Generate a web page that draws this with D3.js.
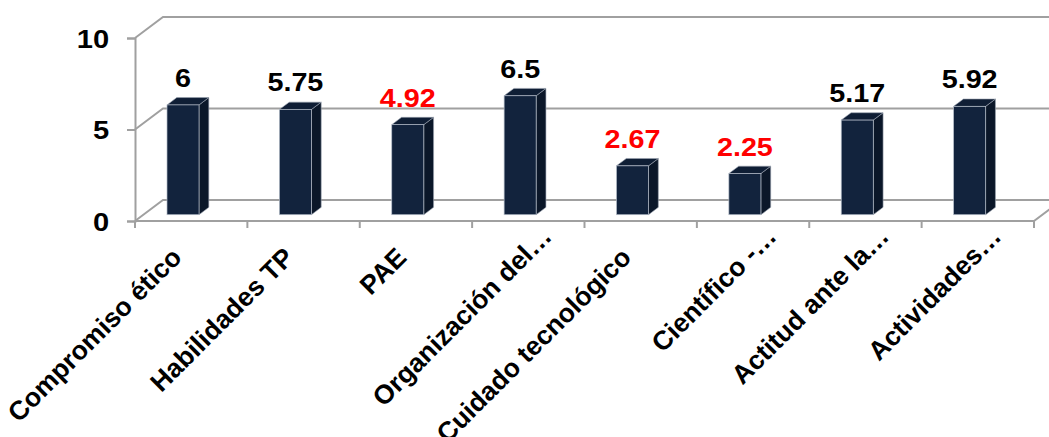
<!DOCTYPE html>
<html lang="es">
<head>
    <meta charset="UTF-8">
    <title>Promedio por competencia</title>
    <script src="https://d3js.org/d3.v7.min.js"></script>
    <style>
        body { margin: 0; background: #fff; }
        text { font-family: "Liberation Sans", Arial, sans-serif; font-weight: bold; }
    </style>
</head>
<body>
    <div id="chart"></div>

    <script>
        // datos
        var categories = ["Compromiso ético", "Habilidades TP", "PAE", "Organización del…",
                          "Cuidado tecnológico", "Científico -…", "Actitud ante la…", "Actividades…"];
        var values = [6, 5.75, 4.92, 6.5, 2.67, 2.25, 5.17, 5.92];
        var yTicks = [0, 5, 10];
        var limit = 5; // por debajo se marca en rojo

        var width = 1049, height = 437;
        var plotL = 135, plotR = 1034, plotB = 221, plotT = 38;
        var DX = 28, DY = -21;          // profundidad del "3D"
        var f0 = 0.3, f1 = 0.65;        // posición de la barra en la profundidad
        var grid = "#a0a0a0";

        var svg = d3.select("#chart").append("svg")
            .attr("width", width).attr("height", height);

        var x = d3.scaleBand().domain(categories).range([plotL, plotR]);
        var y = d3.scaleLinear().domain([0, 10]).range([plotB, plotT]);

        // pared lateral + pared de fondo
        svg.append("g").selectAll("polyline")
            .data(yTicks)
            .enter().append("polyline")
            .attr("points", function(d) {
                return [[plotL, y(d)], [plotL + DX, y(d) + DY], [plotR + DX, y(d) + DY]].join(" ");
            })
            .attr("fill", "none")
            .attr("stroke", grid)
            .attr("stroke-width", 2);

        // borde frontal del suelo
        svg.append("polyline")
            .attr("points", [[plotL, plotB], [plotR, plotB], [plotR + DX, plotB + DY]].join(" "))
            .attr("fill", "none").attr("stroke", grid).attr("stroke-width", 2);

        // eje vertical
        var yAxis = d3.axisLeft(y).tickValues(yTicks).tickSize(8).tickPadding(15);
        var ga = svg.append("g").attr("transform", "translate(" + plotL + ",0)").call(yAxis);
        ga.select(".domain").attr("stroke", grid).attr("stroke-width", 2);
        ga.selectAll(".tick line").attr("stroke", grid).attr("stroke-width", 2);
        ga.selectAll(".tick text")
            .attr("fill", "#000")
            .attr("dy", "0.36em")
            .attr("transform", "scale(1.12,1)")
            .style("font-size", "26px")
            .style("font-family", "Liberation Sans, Arial, sans-serif")
            .style("font-weight", "bold");

        // marcas de categoría
        var bounds = categories.map(function(c) { return x(c); }).concat([plotR]);
        svg.append("g").selectAll("line")
            .data(bounds)
            .enter().append("line")
            .attr("x1", function(d) { return d; })
            .attr("x2", function(d) { return d; })
            .attr("y1", plotB)
            .attr("y2", plotB + 7)
            .attr("stroke", grid)
            .attr("stroke-width", 2);

        // barras
        var bw = x.bandwidth() * 0.285;
        var off = x.bandwidth() * 0.21;
        var bars = values.map(function(v, i) {
            var x0 = x(categories[i]) + off + f0 * DX;
            var yb = y(0) + f0 * DY;
            var yt = y(v) + f0 * DY;
            var ddx = (f1 - f0) * DX, ddy = (f1 - f0) * DY;
            return { v: v, x0: x0, x1: x0 + bw, yb: yb, yt: yt, ddx: ddx, ddy: ddy };
        });

        var g = svg.append("g").selectAll("g")
            .data(bars)
            .enter().append("g");

        g.append("polygon")   // lado
            .attr("points", function(d) {
                return [[d.x1, d.yb], [d.x1 + d.ddx, d.yb + d.ddy], [d.x1 + d.ddx, d.yt + d.ddy], [d.x1, d.yt]].join(" ");
            })
            .attr("fill", "#0b1729").attr("stroke", "#9aa3b0").attr("stroke-width", 0.6);

        g.append("polygon")   // tapa
            .attr("points", function(d) {
                return [[d.x0, d.yt], [d.x0 + d.ddx, d.yt + d.ddy], [d.x1 + d.ddx, d.yt + d.ddy], [d.x1, d.yt]].join(" ");
            })
            .attr("fill", "#0f1e35").attr("stroke", "#9aa3b0").attr("stroke-width", 0.6);

        g.append("rect")      // frente
            .attr("x", function(d) { return d.x0; })
            .attr("y", function(d) { return d.yt; })
            .attr("width", bw)
            .attr("height", function(d) { return d.yb - d.yt; })
            .attr("fill", "#12233d").attr("stroke", "#b4bcc8").attr("stroke-width", 0.7);

        // etiquetas de valor
        g.append("text")
            .attr("transform", function(d) {
                return "translate(" + (d.x0 + bw / 2) + "," + (d.yt - 18) + ") scale(1.15,1)";
            })
            .attr("text-anchor", "middle")
            .attr("fill", function(d) { return d.v < limit ? "#ff0000" : "#000"; })
            .style("font-size", "25px")
            .text(function(d) { return d.v; });

        // etiquetas de categoría, giradas
        svg.append("g").selectAll("text")
            .data(categories)
            .enter().append("text")
            .attr("transform", function(d) {
                var cx = x(d) + x.bandwidth() / 2;
                var cut = d.slice(-1) === "…";   // las recortadas quedan más arriba
                var px = cut ? cx + 25 : cx - 8;
                var py = cut ? 238 : 259;
                return "translate(" + px + "," + py + ") rotate(-45)";
            })
            .attr("text-anchor", "end")
            .attr("fill", "#000")
            .style("font-size", "26.5px")
            .text(function(d) { return d; });
    </script>
</body>
</html>
